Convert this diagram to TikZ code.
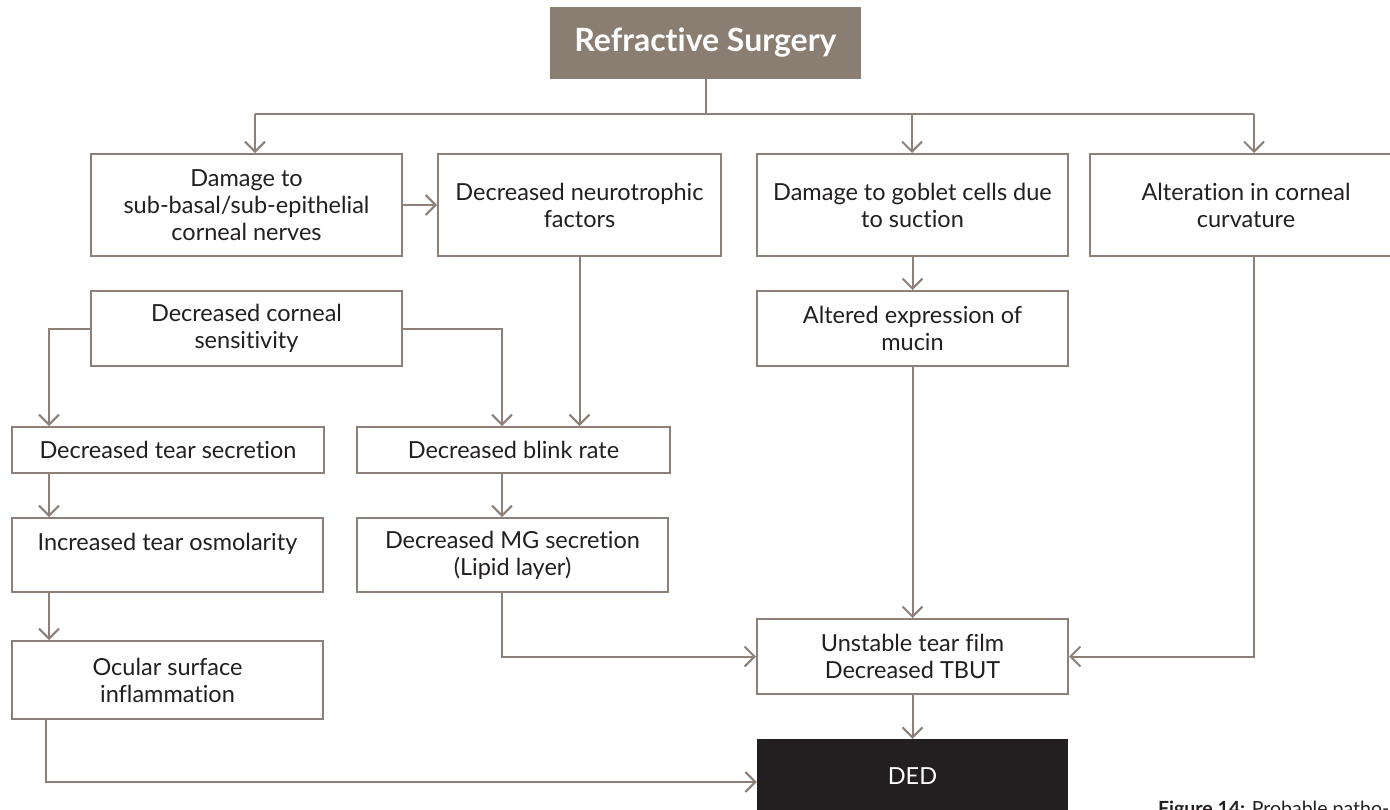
\documentclass[tikz,border=0pt]{standalone}
\usepackage{fontspec}
\setmainfont{Lato}[Ligatures=NoCommon]
\usetikzlibrary{arrows.meta}
\definecolor{boxline}{HTML}{8C8078}
\definecolor{topfill}{HTML}{8A7D72}
\definecolor{ink}{HTML}{231F20}
\tikzset{
  bx/.style={draw=boxline, line width=2pt, fill=white, inner sep=0pt, align=center,
    text=ink, font=\fontsize{23.5}{27}\selectfont},
  topbox/.style={fill=topfill, inner sep=0pt, align=center, text=white,
    font=\fontsize{32}{36}\selectfont\bfseries},
  dedbox/.style={fill=ink, inner sep=0pt, align=center, text=white,
    font=\fontsize{23.5}{27}\selectfont},
  conn/.style={draw=boxline, line width=2pt},
  arr/.style={conn, -{Straight Barb[length=10pt,width=20pt,line width=2pt]}},
}
\begin{document}
\begin{tikzpicture}[x=1pt,y=-1pt]
\useasboundingbox (0,0) rectangle (1390,809);
\node[topbox, minimum width=311pt, minimum height=72pt] (top) at (705.5,43) {Refractive Surgery};
\node[bx, minimum width=311pt, minimum height=102pt] (b1) at (246.5,205) {Damage to\\sub-basal/sub-epithelial\\corneal nerves};
\node[bx, minimum width=283pt, minimum height=102pt] (b2) at (579.5,205) {Decreased neurotrophic\\factors};
\node[bx, minimum width=311pt, minimum height=102pt] (b3) at (912.5,205) {Damage to goblet cells due\\to suction};
\node[bx, minimum width=312pt, minimum height=102pt] (b4) at (1246,205) {Alteration in corneal\\curvature};
\node[bx, minimum width=311pt, minimum height=75pt] (sens) at (246.5,328.5) {Decreased corneal\\sensitivity};
\node[bx, minimum width=311pt, minimum height=75pt] (mucin) at (912.5,328.5) {Altered expression of\\mucin};
\node[bx, minimum width=312pt, minimum height=46pt] (tear) at (168,450) {Decreased tear secretion};
\node[bx, minimum width=313pt, minimum height=46pt] (blink) at (513.5,450) {Decreased blink rate};
\node[bx, minimum width=311pt, minimum height=74pt] (osm) at (167.5,555) {Increased tear osmolarity\\\mbox{}};
\node[bx, minimum width=311pt, minimum height=74pt] (mg) at (512.5,555) {Decreased MG secretion\\(Lipid layer)};
\node[bx, minimum width=311pt, minimum height=78pt] (infl) at (167.5,680) {Ocular surface\\inflammation};
\node[bx, minimum width=311pt, minimum height=75pt] (unst) at (912.5,656.5) {Unstable tear film\\Decreased TBUT};
\node[dedbox, minimum width=311pt, minimum height=74pt] (ded) at (912.5,776) {DED};
\node[anchor=base west, inner sep=0pt, text=ink, font=\fontsize{19.5}{23}\selectfont] (cap) at (1158,815) {\textbf{Figure 14:} Probable patho-};
% bus
\coordinate (busL) at (255,114);
\coordinate (busM) at (912,114);
\coordinate (busR) at (1254,114);
\draw[conn] (top.south) -- (top.south |- busL);
\draw[conn] (busL) -- (busR);
\draw[arr] (busL) -- (busL |- b1.north);
\draw[arr] (busM) -- (busM |- b3.north);
\draw[arr] (busR) -- (busR |- b4.north);
\draw[arr] (b1.east) -- (b2.west);
% left side
\coordinate (xl) at (49,0);
\coordinate (xm) at (502,0);
\draw[arr] (b2.south) -- (b2.south |- blink.north);
\draw[arr] (sens.west) -| (xl |- tear.north);
\draw[arr] (sens.east) -| (xm |- blink.north);
\draw[arr] (xl |- tear.south) -- (xl |- osm.north);
\draw[arr] (xm |- blink.south) -- (xm |- mg.north);
\draw[arr] (xl |- osm.south) -- (xl |- infl.north);
\coordinate (xi) at (46,782);
\draw[arr] (xi |- infl.south) -- (xi) -- (xi -| ded.west);
\draw[arr] (xm |- mg.south) |- (unst.west);
% right side
\draw[arr] (b3.south) -- (mucin.north);
\draw[arr] (mucin.south) -- (unst.north);
\draw[arr] (busR |- b4.south) |- (unst.east);
\draw[arr] (unst.south) -- (ded.north);
\end{tikzpicture}
\end{document}
